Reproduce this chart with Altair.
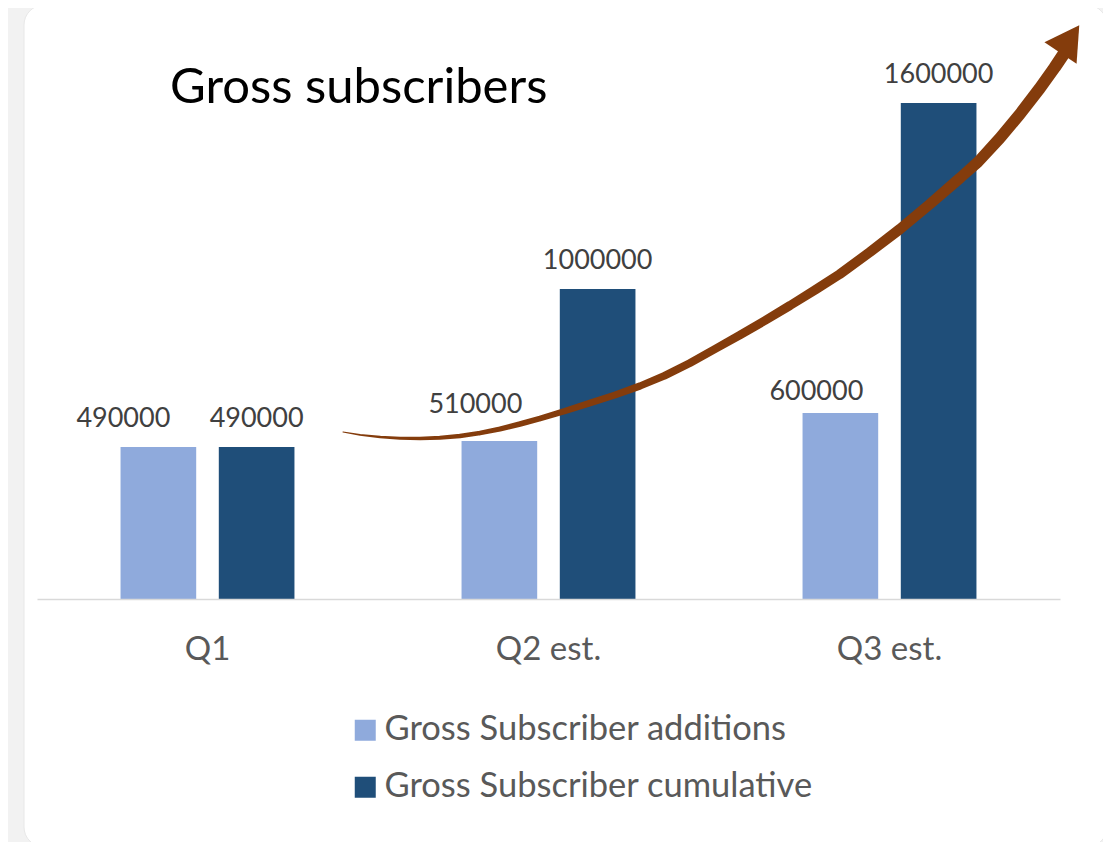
import altair as alt
import pandas as pd

# ---- chart data ----
chart_title = ["Gross subscribers"]
quarters = ["Q1", "Q2 est.", "Q3 est."]
series_names = ["Gross Subscriber additions", "Gross Subscriber cumulative"]
additions = [490000, 510000, 600000]
cumulative = [490000, 1000000, 1600000]
series_colors = ["#8FAADC", "#1F4E79"]

# ---- decorative growth arrow (x in quarter-band units, y in subscribers) ----
arrow_pos = [0.8974, 0.9472, 1.0059, 1.0645, 1.1232, 1.1818, 1.2405, 1.2991, 1.3578,
             1.4164, 1.4751, 1.5484, 1.6217, 1.6950, 1.7683, 1.8416, 1.9150, 1.9883,
             2.0616, 2.1349, 2.2082, 2.2815, 2.3548, 2.4428, 2.5308, 2.6188, 2.7067,
             2.7595, 2.8240, 2.8827, 2.9413, 2.9853, 3.0147]
arrow_val = [538710, 529680, 522580, 518710, 517740, 520000, 525810, 535480, 548390,
             564520, 582260, 606450, 632260, 658060, 687100, 720970, 761290, 806450,
             851610, 898390, 946770, 996770, 1048390, 1119350, 1193550, 1274190, 1358060,
             1409680, 1487100, 1564520, 1648390, 1716130, 1764520]
arrow_width = [1.2, 1.8, 2.4, 2.9, 3.4, 3.9, 4.3, 4.7, 5.1, 5.5, 5.9, 6.3, 6.7, 7.0,
               7.3, 7.6, 7.9, 8.2, 8.5, 8.8, 9.1, 9.4, 9.7, 10.0, 10.4, 10.7, 11.0,
               11.2, 11.5, 11.8, 12.0, 12.2, 12.4]
head_pos = [3.029]
head_val = [1806000]

FONT = "Lato"

rows = []
for q, a, c in zip(quarters, additions, cumulative):
    rows.append({"quarter": q, "series": series_names[0], "value": a})
    rows.append({"quarter": q, "series": series_names[1], "value": c})
df = pd.DataFrame(rows)

arrow_df = pd.DataFrame({"pos": arrow_pos, "val": arrow_val, "w": arrow_width,
                         "order": list(range(len(arrow_pos)))})
head_df = pd.DataFrame({"pos": head_pos, "val": head_val})
title_df = pd.DataFrame({"t": chart_title})

y_scale = alt.Scale(domain=[0, 1800000], nice=False, zero=True)
band_scale = alt.Scale(paddingInner=0.49, paddingOuter=0.245)
x_axis = alt.Axis(labelAngle=0, ticks=False, domainColor="#D9D9D9",
                  domainWidth=1.5, labelFontSize=33, labelColor="#595959",
                  labelFont=FONT, labelPadding=34, grid=False, zindex=1)
x_band = alt.X("quarter:N", sort=quarters, title=None, scale=band_scale, axis=x_axis)
x_off = alt.XOffset("series:N", sort=series_names,
                    scale=alt.Scale(paddingInner=0.23, paddingOuter=0))
y_enc = alt.Y("value:Q", scale=y_scale, axis=None)

base = alt.Chart(df)

bars = base.mark_bar().encode(
    x=x_band, xOffset=x_off, y=y_enc,
    color=alt.Color("series:N", sort=series_names,
                    scale=alt.Scale(domain=series_names, range=series_colors),
                    legend=alt.Legend(title=None, orient="none", legendX=311, legendY=672,
                                      direction="vertical", symbolType="square",
                                      symbolSize=441, symbolStrokeWidth=0,
                                      labelFontSize=34.5, labelFont=FONT, labelLimit=0,
                                      labelColor="#595959", labelOffset=2,
                                      rowPadding=22)),
)

def labels(filter_expr, dx, dy):
    return base.transform_filter(filter_expr).mark_text(
        font=FONT, fontSize=27, color="#404040", baseline="alphabetic",
        align="center", dx=dx, dy=dy
    ).encode(x=x_band, xOffset=x_off, y=y_enc, text=alt.Text("value:Q", format="d"))

is_add = "datum.series == 'Gross Subscriber additions'"
lab_main = labels("datum.series != 'Gross Subscriber additions'", 0, -20)
lab_q1 = labels(is_add + " && datum.quarter == 'Q1'", -35, -20)
lab_q2 = labels(is_add + " && datum.quarter == 'Q2 est.'", -24, -28)
lab_q3 = labels(is_add + " && datum.quarter == 'Q3 est.'", -24, -13)

title_txt = alt.Chart(title_df).mark_text(
    font=FONT, fontSize=49, color="#000000", align="left", baseline="alphabetic"
).encode(x=alt.value(133), y=alt.value(62), text="t:N")

main = alt.layer(bars, lab_main, lab_q1, lab_q2, lab_q3, title_txt)

x_q = alt.X("pos:Q", scale=alt.Scale(domain=[0, 3], nice=False, zero=False), axis=None)
y_q = alt.Y("val:Q", scale=y_scale, axis=None)
trail = alt.Chart(arrow_df).mark_trail(color="#843C0C").encode(
    x=x_q, y=y_q, order="order:Q", size=alt.Size("w:Q", scale=None, legend=None))
head = alt.Chart(head_df).mark_point(shape="triangle-up", filled=True, color="#843C0C",
                                      opacity=1, size=1500, angle=34).encode(x=x_q, y=y_q)
arrow = alt.layer(trail, head)

card = alt.Chart(title_df).mark_rect(fill="white", cornerRadius=20, stroke="#E8E8E8",
                                     strokeWidth=1).encode(
    x=alt.value(-13), x2=alt.value(1070), y=alt.value(-36), y2=alt.value(806))

chart = alt.layer(card, main, arrow).resolve_scale(x="independent").properties(
    width=1023, height=558,
    autosize=alt.AutoSizeParams(type="none"),
    padding={"left": 29, "top": 33, "right": 43, "bottom": 243},
    background="#F2F2F2",
).configure_view(stroke=None)

chart.save("out.html", embed_options={"renderer": "svg", "actions": False})
